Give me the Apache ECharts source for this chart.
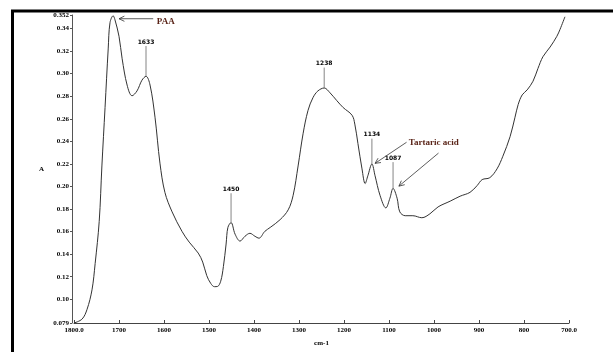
<!DOCTYPE html>
<html>
<head>
<meta charset="utf-8">
<script src="https://cdn.jsdelivr.net/npm/echarts@6/dist/echarts.min.js"></script>
<style>
html,body{margin:0;padding:0;background:#fff;}
#chart{width:613px;height:352px;}
</style>
</head>
<body>
<div id="chart"></div>
<script>
// Wavenumber (cm-1) and absorbance
const wavenumbers = [1800,1782,1771,1760,1753,1744,1738,1731,1724,1720,1713,1709,1700,1693,1682,1671,1660,1649,1640,1631,1620,1609,1598,1582,1560,1544,1524,1514,1505,1496,1488,1481,1474,1468,1462,1458,1451,1442,1431,1420,1409,1398,1389,1376,1364,1342,1324,1313,1302,1291,1280,1269,1258,1244,1231,1216,1202,1182,1176,1169,1160,1153,1147,1138,1131,1120,1107,1098,1091,1082,1076,1064,1047,1027,1009,991,964,942,920,904,893,876,860,847,831,820,813,804,793,780,769,758,742,727,720,709];
const absorbance = [0.079,0.0825,0.0911,0.1084,0.1317,0.1689,0.2182,0.2700,0.3219,0.3452,0.3513,0.3478,0.3331,0.3132,0.2899,0.2804,0.2847,0.2942,0.2977,0.2899,0.2614,0.2207,0.1948,0.1775,0.1602,0.1507,0.1410,0.1330,0.1210,0.1140,0.1112,0.1114,0.1160,0.1290,0.1490,0.1637,0.1680,0.1577,0.1516,0.1559,0.1585,0.1559,0.1542,0.1602,0.1637,0.1706,0.1793,0.1922,0.2182,0.2467,0.2674,0.2787,0.2847,0.2873,0.2830,0.2761,0.2700,0.2631,0.2553,0.2380,0.2156,0.2026,0.2095,0.2199,0.2095,0.1922,0.1810,0.1896,0.1983,0.1896,0.1775,0.1741,0.1741,0.1723,0.1758,0.1819,0.1870,0.1914,0.1948,0.2009,0.2061,0.2078,0.2156,0.2268,0.2441,0.2614,0.2726,0.2812,0.2856,0.2933,0.3046,0.3150,0.3236,0.3331,0.3392,0.3504];

const yTickValues = [0.079,0.10,0.12,0.14,0.16,0.18,0.20,0.22,0.24,0.26,0.28,0.30,0.32,0.34,0.352];

// Peak labels: text, wavenumber of the marker line, absorbance of line bottom/top
const peakLabels = ['1633','1450','1238','1134','1087'];
const peakWn = [1640,1451,1244,1138,1091];
const peakBottom = [0.2977,0.1680,0.2873,0.2199,0.1983];
const peakTop = [0.3245,0.1940,0.3054,0.2424,0.2216];

// Arrow annotations: [tail wn, tail A] -> [head wn, head A]
const arrowTails = [[1624,0.3487],[1061,0.2392],[990,0.2296]];
const arrowHeads = [[1700,0.3487],[1131,0.2205],[1078,0.2003]];
const noteTexts = ['PAA','Tartaric acid'];
const notePos = [[1616,0.3457],[1056,0.2389]];

const data = wavenumbers.map((w,i)=>[w,absorbance[i]]);
const serif = 'Liberation Serif';

const chart = echarts.init(document.getElementById('chart'), null, {renderer:'canvas'});
chart.setOption({
  animation:false,
  backgroundColor:'#fff',
  grid:{left:74,right:44,top:15,bottom:21,containLabel:false},
  xAxis:{
    type:'value', inverse:true, min:700, max:1800, interval:100,
    axisLine:{lineStyle:{color:'#444',width:1}},
    axisTick:{inside:true,length:3,lineStyle:{color:'#444'}},
    splitLine:{show:false},
    axisLabel:{margin:4,fontFamily:serif,fontWeight:'bold',fontSize:7,color:'#000',
      formatter:v=> (v===1800||v===700)? v.toFixed(1) : String(v)},
    name:'cm-1', nameLocation:'middle', nameGap:17,
    nameTextStyle:{fontFamily:serif,fontWeight:'bold',fontSize:7,color:'#000'}
  },
  yAxis:{
    type:'value', min:0.079, max:0.352, offset:2,
    axisLine:{show:true,lineStyle:{color:'#555',width:1}},
    axisTick:{show:true,length:2,customValues:yTickValues,lineStyle:{color:'#555'}},
    splitLine:{show:false},
    axisLabel:{margin:3,fontFamily:serif,fontWeight:'bold',fontSize:7,color:'#000',
      customValues:yTickValues,
      formatter:v=>{ if(Math.abs(v-0.079)<1e-6) return '0.079'; if(Math.abs(v-0.352)<1e-6) return '0.352'; return v.toFixed(2);} },
    name:'A', nameLocation:'middle', nameGap:28, nameRotate:0,
    nameTextStyle:{fontFamily:serif,fontWeight:'bold',fontSize:7,color:'#000'}
  },
  series:[{
    type:'line', data:data, smooth:0.35, symbol:'none',
    lineStyle:{color:'#333',width:1}
  }]
});

function px(p){ return chart.convertToPixel({gridIndex:0}, p); }
const g = [];
// frame
g.push({type:'rect',shape:{x:12.5,y:11,width:640,height:400},style:{fill:null,stroke:'#000',lineWidth:3},z:100});
peakLabels.forEach((t,i)=>{
  const b = px([peakWn[i],peakBottom[i]]);
  const top = px([peakWn[i],peakTop[i]]);
  g.push({type:'line',shape:{x1:b[0],y1:b[1],x2:top[0],y2:top[1]},style:{stroke:'#666',lineWidth:0.8},z:50});
  g.push({type:'text',x:top[0],y:top[1]-1,style:{text:t,fill:'#000',font:'bold 6px "DejaVu Sans"',align:'center',verticalAlign:'bottom'},z:50});
});
arrowTails.forEach((tl,i)=>{
  const a = px(tl), h = px(arrowHeads[i]);
  g.push({type:'line',shape:{x1:a[0],y1:a[1],x2:h[0],y2:h[1]},style:{stroke:'#333',lineWidth:0.8},z:50});
  const dx=a[0]-h[0], dy=a[1]-h[1], L=Math.hypot(dx,dy), ux=dx/L, uy=dy/L;
  const ang=0.45, len=6;
  const p1=[h[0]+len*(ux*Math.cos(ang)-uy*Math.sin(ang)), h[1]+len*(ux*Math.sin(ang)+uy*Math.cos(ang))];
  const p2=[h[0]+len*(ux*Math.cos(-ang)-uy*Math.sin(-ang)), h[1]+len*(ux*Math.sin(-ang)+uy*Math.cos(-ang))];
  g.push({type:'polyline',shape:{points:[p1,h,p2]},style:{stroke:'#333',lineWidth:0.8,fill:null},z:50});
});
noteTexts.forEach((t,i)=>{
  const p = px(notePos[i]);
  g.push({type:'text',x:p[0],y:p[1],style:{text:t,fill:'#5a2418',font:'bold 9px "Liberation Serif"',align:'left',verticalAlign:'middle'},z:50});
});
chart.setOption({graphic:g});
</script>
</body>
</html>
